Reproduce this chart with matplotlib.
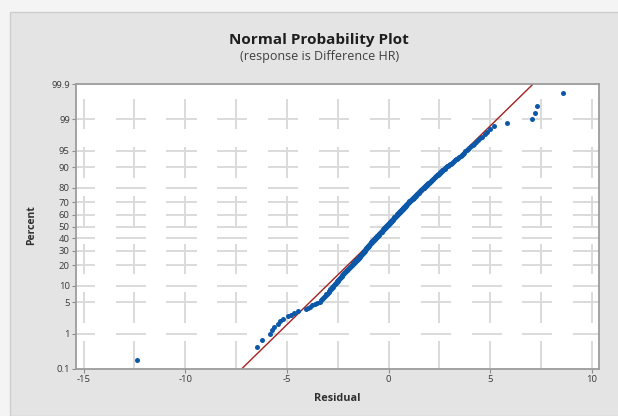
import numpy as np
import matplotlib
matplotlib.use("Agg")
import matplotlib.pyplot as plt
from matplotlib.patches import Rectangle
from matplotlib.ticker import NullLocator
from statistics import NormalDist

# residuals (sorted)
residuals = [
    -12.35, -6.45, -6.20, -5.85, -5.74, -5.62, -5.46, -5.33, -5.20, -4.92,
    -4.80, -4.63, -4.45, -4.05, -3.96, -3.86, -3.76, -3.62, -3.50, -3.38,
    -3.31, -3.27, -3.22, -3.19, -3.14, -3.10, -3.06, -3.02, -2.99, -2.95,
    -2.93, -2.90, -2.86, -2.83, -2.80, -2.77, -2.74, -2.71, -2.68, -2.65,
    -2.62, -2.60, -2.57, -2.55, -2.52, -2.50, -2.47, -2.45, -2.42, -2.40,
    -2.38, -2.35, -2.33, -2.31, -2.29, -2.27, -2.25, -2.22, -2.20, -2.18,
    -2.16, -2.13, -2.11, -2.08, -2.06, -2.04, -2.02, -1.99, -1.97, -1.95,
    -1.93, -1.91, -1.88, -1.86, -1.84, -1.82, -1.80, -1.79, -1.77, -1.75,
    -1.73, -1.71, -1.69, -1.67, -1.65, -1.63, -1.61, -1.59, -1.57, -1.55,
    -1.53, -1.51, -1.49, -1.47, -1.46, -1.44, -1.43, -1.41, -1.40, -1.38,
    -1.36, -1.35, -1.33, -1.32, -1.30, -1.29, -1.28, -1.26, -1.25, -1.24,
    -1.22, -1.21, -1.19, -1.18, -1.17, -1.15, -1.14, -1.13, -1.11, -1.10,
    -1.09, -1.07, -1.06, -1.04, -1.03, -1.02, -1.00, -0.99, -0.98, -0.96,
    -0.95, -0.94, -0.92, -0.91, -0.90, -0.88, -0.87, -0.86, -0.84, -0.83,
    -0.82, -0.80, -0.79, -0.77, -0.76, -0.75, -0.73, -0.72, -0.70, -0.69,
    -0.68, -0.66, -0.65, -0.63, -0.62, -0.61, -0.59, -0.58, -0.56, -0.55,
    -0.54, -0.52, -0.51, -0.49, -0.48, -0.46, -0.45, -0.43, -0.42, -0.40,
    -0.39, -0.37, -0.36, -0.34, -0.33, -0.31, -0.30, -0.29, -0.27, -0.26,
    -0.25, -0.23, -0.22, -0.20, -0.19, -0.17, -0.16, -0.15, -0.13, -0.12,
    -0.11, -0.09, -0.08, -0.06, -0.05, -0.03, -0.02, -0.01, 0.01, 0.02,
    0.03, 0.05, 0.06, 0.07, 0.09, 0.10, 0.11, 0.13, 0.14, 0.15,
    0.17, 0.18, 0.20, 0.21, 0.22, 0.24, 0.25, 0.27, 0.28, 0.29,
    0.31, 0.32, 0.34, 0.35, 0.37, 0.38, 0.40, 0.41, 0.43, 0.44,
    0.45, 0.47, 0.48, 0.50, 0.51, 0.52, 0.54, 0.55, 0.57, 0.58,
    0.60, 0.61, 0.63, 0.64, 0.66, 0.67, 0.69, 0.70, 0.72, 0.73,
    0.75, 0.76, 0.78, 0.79, 0.81, 0.82, 0.84, 0.85, 0.87, 0.88,
    0.90, 0.92, 0.93, 0.95, 0.97, 0.98, 1.00, 1.02, 1.03, 1.05,
    1.07, 1.09, 1.11, 1.12, 1.14, 1.16, 1.18, 1.20, 1.21, 1.23,
    1.25, 1.27, 1.29, 1.31, 1.33, 1.35, 1.36, 1.38, 1.40, 1.42,
    1.44, 1.46, 1.48, 1.50, 1.52, 1.54, 1.56, 1.58, 1.60, 1.62,
    1.64, 1.67, 1.69, 1.72, 1.74, 1.76, 1.79, 1.81, 1.84, 1.86,
    1.88, 1.91, 1.93, 1.96, 1.98, 2.00, 2.03, 2.05, 2.08, 2.10,
    2.13, 2.16, 2.18, 2.21, 2.24, 2.27, 2.30, 2.33, 2.35, 2.38,
    2.41, 2.44, 2.48, 2.51, 2.55, 2.58, 2.62, 2.65, 2.69, 2.72,
    2.76, 2.80, 2.84, 2.89, 2.93, 2.97, 3.02, 3.06, 3.10, 3.15,
    3.20, 3.25, 3.30, 3.36, 3.42, 3.48, 3.54, 3.59, 3.65, 3.70,
    3.77, 3.84, 3.91, 3.98, 4.06, 4.14, 4.22, 4.31, 4.40, 4.50,
    4.62, 4.74, 4.86, 5.00, 5.18, 5.81, 7.04, 7.20, 7.31, 8.59,
]

pct_ticks = [0.1, 1, 5, 10, 20, 30, 40, 50, 60, 70, 80, 90, 95, 99, 99.9]
pct_labels = ["0.1", "1", "5", "10", "20", "30", "40", "50", "60", "70",
              "80", "90", "95", "99", "99.9"]
x_ticks = [-15, -10, -5, 0, 5, 10]

# fitted normal line
fit_mean = -0.06
fit_sd = 2.32

# where the vertical grid dashes sit (in z units)
vgrid_z = [2.44, 1.39, 0.34, -0.71, -1.76, -2.81]

nd = NormalDist()


def _ppf1(p):
    if not np.isfinite(p):
        return np.nan
    p = min(max(p / 100.0, 1e-12), 1 - 1e-12)
    return nd.inv_cdf(p)


def _cdf1(z):
    if not np.isfinite(z):
        return np.nan
    return nd.cdf(z) * 100.0


_ppf = np.vectorize(_ppf1, otypes=[float])
_cdf = np.vectorize(_cdf1, otypes=[float])


def probit(p):
    return _ppf(np.asarray(p, dtype=float))


def unprobit(z):
    return _cdf(np.asarray(z, dtype=float))


plt.rcParams['font.family'] = ['Open Sans', 'DejaVu Sans']

fig = plt.figure(figsize=(6.18, 4.16), dpi=100)
fig.patch.set_facecolor('#f4f4f4')
fig.patches.append(Rectangle((10 / 618, 0), 1, 1 - 12 / 416, transform=fig.transFigure,
                             facecolor='#e4e4e4', edgecolor='#cdcdcd', lw=1.0, zorder=-10))

ax = fig.add_axes([76 / 618, 47 / 416, 523 / 618, 285 / 416])
ax.set_zorder(1)
ax.set_facecolor('white')
ax.set_yscale('function', functions=(probit, unprobit))

x = np.sort(np.array(residuals))
n = len(x)
pct = (np.arange(1, n + 1) - 0.3) / (n + 0.4) * 100

# grid, minitab style broken lines
gcol = '#dadada'
xc = np.arange(-15, 10.01, 2.5)
for p in pct_ticks[1:-1]:
    ax.hlines(np.full(len(xc), p), xc - 0.92, xc + 0.56, colors=gcol, lw=1.4, zorder=0.5)
for z in vgrid_z:
    ax.vlines(xc, unprobit(z - 0.33), unprobit(z + 0.33), colors=gcol, lw=1.4, zorder=0.5)

zz = np.array([probit(0.1), probit(99.9)])
ax.plot(fit_mean + fit_sd * zz, [0.1, 99.9], color='#a3201f', lw=1.0, zorder=2)
ax.plot(x, pct, 'o', color='#0b57a8', ms=3.6, mew=0, zorder=3)

ax.set_xlim(-15.37, 10.35)
ax.set_ylim(0.1, 99.9)
ax.set_xticks(x_ticks)
ax.set_xticklabels([str(t) for t in x_ticks])
ax.set_yticks(pct_ticks)
ax.set_yticklabels(pct_labels)
ax.yaxis.set_minor_locator(NullLocator())
ax.xaxis.set_minor_locator(NullLocator())
ax.tick_params(length=3, width=0.8, color='#8c8c8c', labelsize=6.8,
               labelcolor='#3a3a3a', pad=1.5)
for s in ax.spines.values():
    s.set_color('#9c9c9c')
    s.set_linewidth(1.3)

fig.text(0.516, 0.904, "Normal Probability Plot", ha='center', va='center',
         fontsize=11, fontweight='bold', color='#1e1e1e')
fig.text(0.517, 0.863, "(response is Difference HR)", ha='center', va='center',
         fontsize=9, color='#404040')
fig.text(32 / 618, 0.458, "Percent", rotation=90, ha='center', va='center',
         fontsize=7.5, fontweight='bold', color='#303030')
fig.text(0.545, 0.043, "Residual", ha='center', va='center',
         fontsize=7.8, fontweight='bold', color='#303030')

fig.savefig("out.png", dpi=100, facecolor=fig.get_facecolor())
